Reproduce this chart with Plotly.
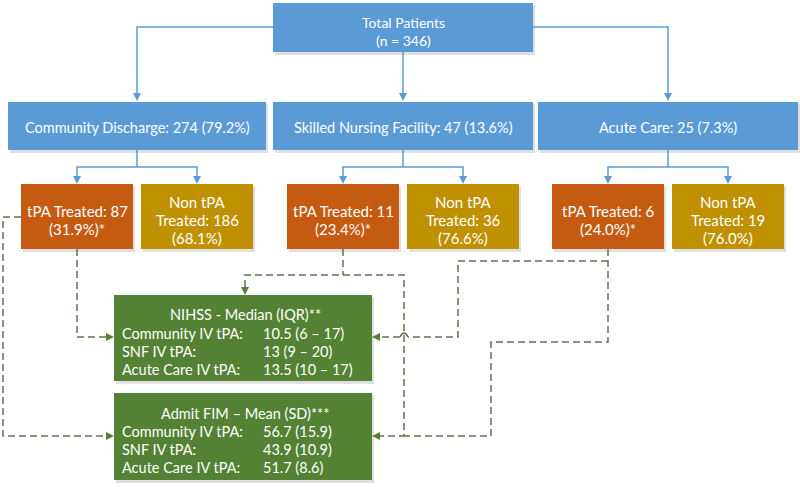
import plotly.graph_objects as go

# ---------------- data ----------------
total_label = "Total Patients"
total_n = 346
discharge_cats = ["Community Discharge", "Skilled Nursing Facility", "Acute Care"]
discharge_n = [274, 47, 25]
discharge_pct = [79.2, 13.6, 7.3]
tpa_n = [87, 11, 6]
tpa_pct = [31.9, 23.4, 24.0]
non_tpa_n = [186, 36, 19]
non_tpa_pct = [68.1, 76.6, 76.0]
group_labels = ["Community IV tPA:", "SNF IV tPA:", "Acute Care IV tPA:"]
nihss_median = ["10.5", "13", "13.5"]
nihss_q1 = [6, 9, 10]
nihss_q3 = [17, 20, 17]
fim_mean = [56.7, 43.9, 51.7]
fim_sd = [15.9, 10.9, 8.6]
nihss_title = "NIHSS - Median (IQR)**"
fim_title = "Admit FIM \u2013 Mean (SD)***"

# ---------------- style ----------------
BLUE = "#5B9BD5"
ORANGE = "#C55A11"
GOLD = "#BF9000"
GREEN = "#548235"
DASH = "#5F7453"
FONT = "Lato"

shapes = []
annos = []


def box(x0, y0, x1, y1, color):
    shapes.append(dict(type="rect", x0=x0 + 2, y0=y0 + 2, x1=x1 + 2, y1=y1 + 3,
                       fillcolor="rgba(0,0,0,0.12)", line=dict(width=0), layer="below"))
    shapes.append(dict(type="rect", x0=x0, y0=y0, x1=x1, y1=y1,
                       fillcolor=color, line=dict(width=0), layer="below"))


def text(x, y, s, size=14, anchor="center"):
    annos.append(dict(x=x, y=y, text=s, showarrow=False, xanchor=anchor, yanchor="middle",
                      font=dict(family=FONT, size=size, color="white")))


def path(pts, color, dash=None, width=1.5):
    d = "M " + " L ".join(f"{px},{py}" for px, py in pts)
    ln = dict(color=color, width=width)
    if dash:
        ln["dash"] = dash
    shapes.append(dict(type="path", path=d, line=ln, fillcolor="rgba(0,0,0,0)"))


def head(x, y, d, color, size=8, half=4):
    if d == "down":
        p = f"M {x},{y} L {x-half},{y-size} L {x+half},{y-size} Z"
    elif d == "right":
        p = f"M {x},{y} L {x-size},{y-half} L {x-size},{y+half} Z"
    else:
        p = f"M {x},{y} L {x+size},{y-half} L {x+size},{y+half} Z"
    shapes.append(dict(type="path", path=p, fillcolor=color, line=dict(width=0)))


# ---------------- top box ----------------
box(273, 3, 533, 52, BLUE)
text(403, 22, total_label, 14)
text(403, 40, f"(n = {total_n})", 14)

# ---------------- level 2 ----------------
l2 = [(8, 266), (273, 533), (538, 798)]
centers = [(a + b) / 2 for a, b in l2]
path([(centers[0], 100 - 7), (centers[0], 27), (centers[2], 27), (centers[2], 100 - 7)], BLUE)
path([(403, 52), (403, 93)], BLUE)
for c in centers:
    head(c, 101, "down", BLUE)

for i, (a, b) in enumerate(l2):
    box(a, 102, b, 150, BLUE)
    text((a + b) / 2, 127, f"{discharge_cats[i]}: {discharge_n[i]} ({discharge_pct[i]:.1f}%)", 14.5)

# ---------------- level 3 ----------------
child_centers = []
for i, c in enumerate(centers):
    lc, rc = c - 60, c + 60
    child_centers.append((lc, rc))
    path([(c, 150), (c, 167)], BLUE)
    path([(lc, 177), (lc, 167), (rc, 167), (rc, 177)], BLUE)
    head(lc, 184, "down", BLUE)
    head(rc, 184, "down", BLUE)
    box(lc - 56, 184, lc + 56, 249, ORANGE)
    box(rc - 56, 184, rc + 56, 249, GOLD)
    text(lc, 211, f"tPA Treated: {tpa_n[i]}", 15)
    text(lc, 229, f"({tpa_pct[i]:.1f}%)*", 15)
    text(rc, 202, "Non tPA", 15)
    text(rc, 220, f"Treated: {non_tpa_n[i]}", 15)
    text(rc, 238, f"({non_tpa_pct[i]:.1f}%)", 15)

# ---------------- green boxes ----------------
box(114, 295, 372, 381, GREEN)
box(114, 393, 372, 480, GREEN)
text(245, 314, nihss_title, 14.5)
text(245, 413, fim_title, 14.5)
nihss_rows = [333, 351, 369]
fim_rows = [431, 449, 467]
for i in range(3):
    text(120, nihss_rows[i], group_labels[i], 14.5, "left")
    text(261, nihss_rows[i], f"{nihss_median[i]} ({nihss_q1[i]} \u2013 {nihss_q3[i]})", 14.5, "left")
    text(120, fim_rows[i], group_labels[i], 14.5, "left")
    text(261, fim_rows[i], f"{fim_mean[i]:.1f} ({fim_sd[i]:.1f})", 14.5, "left")

# ---------------- dashed connectors ----------------
dash = "7px,4px"
cx, sx, ax = child_centers[0][0], child_centers[1][0], child_centers[2][0]
# community tPA -> NIHSS
path([(cx, 249), (cx, 337), (106, 337)], DASH, dash)
head(114, 337, "right", GREEN)
# community tPA -> FIM
path([(cx - 56, 217), (3, 217), (3, 436), (106, 436)], DASH, dash)
head(114, 436, "right", GREEN)
# SNF tPA
path([(sx, 249), (sx, 275)], DASH, dash)
path([(245, 287), (245, 275), (404, 275), (404, 436), (380, 436)], DASH, dash)
head(245, 295, "down", GREEN)
head(372, 436, "left", GREEN)
# Acute tPA
path([(ax, 249), (ax, 342), (491, 342), (491, 436), (404, 436)], DASH, dash)
path([(ax, 261), (458, 261), (458, 337), (408, 337)], DASH, dash)
shapes.append(dict(type="path", path="M 408,337 Q 404,329 400,337",
                   line=dict(color=DASH, width=1.5), fillcolor="rgba(0,0,0,0)"))
path([(400, 337), (380, 337)], DASH, dash)
head(372, 337, "left", GREEN)

fig = go.Figure()
fig.update_layout(
    width=800, height=487,
    margin=dict(l=0, r=0, t=0, b=0),
    paper_bgcolor="white", plot_bgcolor="white",
    xaxis=dict(range=[0, 800], visible=False, fixedrange=True),
    yaxis=dict(range=[487, 0], visible=False, fixedrange=True),
    shapes=shapes, annotations=annos, showlegend=False,
)
fig.write_html("out.html", config={"displayModeBar": False},
               post_script="document.body.style.margin='0';document.body.style.overflow='hidden';")
